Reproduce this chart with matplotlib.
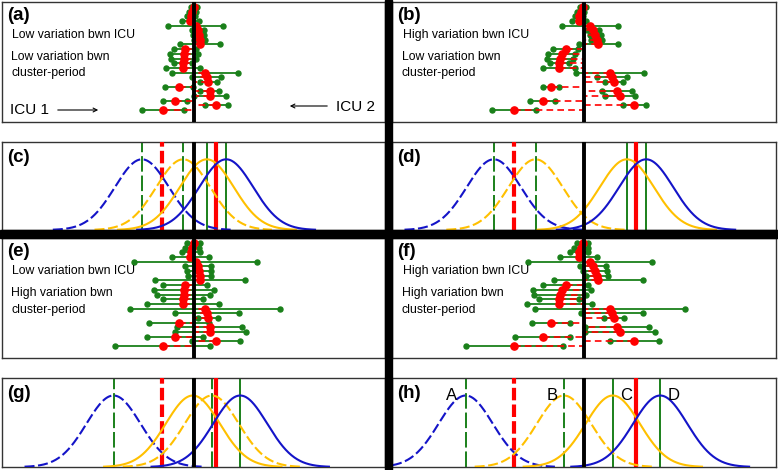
import numpy as np
import matplotlib
matplotlib.use('Agg')
import matplotlib.pyplot as plt
from matplotlib.patches import Rectangle

plt.rcParams['font.family'] = ['Liberation Sans', 'DejaVu Sans']

W, H = 778, 470

# cluster-period estimates (same rows in a/e and in b/f)
est_low = [0.0, -0.13, -0.23, -0.33, 0.2, 0.4, 0.5, 0.6, 0.63, -0.85, -0.95, -1.0,
           -1.05, -1.05, 1.13, 1.3, 1.47, -1.43, 1.6, 1.67, -1.83, 2.27, -3.1]
est_high = [-0.13, -0.33, -0.47, -0.53, 0.6, 0.93, 1.13, 1.27, 1.43, -1.83, -2.23, -2.4,
            -2.47, -2.47, 2.6, 2.77, 3.0, -3.27, 3.33, 3.6, -4.13, 5.03, -6.97]
# half widths of the intervals
hw_a = [0.30, 0.35, 0.40, 0.83, 2.75, 0.60, 0.55, 0.55, 1.97, 1.13, 1.40, 1.25,
        0.90, 1.70, 3.33, 1.45, 0.83, 1.42, 0.95, 1.58, 1.22, 1.13, 2.10]
hw_b = [0.30, 0.35, 0.40, 0.70, 2.75, 0.60, 0.55, 0.55, 1.97, 1.22, 1.33, 1.27,
        0.95, 1.58, 3.40, 1.50, 0.92, 0.80, 1.50, 1.53, 1.25, 1.12, 2.17]
hw_e = [0.62, 0.70, 0.90, 1.85, 6.17, 1.30, 1.20, 1.17, 4.50, 2.20, 3.00, 2.67,
        2.00, 3.63, 7.50, 3.20, 1.00, 3.00, 3.28, 3.53, 2.80, 2.42, 4.78]
hw_f = [0.53, 0.70, 0.90, 1.83, 6.15, 1.30, 1.20, 1.12, 4.45, 2.25, 2.88, 2.63,
        2.00, 3.25, 7.50, 3.10, 1.00, 1.87, 3.20, 3.50, 2.75, 2.48, 4.83]

# density panels: curve means A, B (dashed), C, D (solid)
means_c = [-5.16, -1.03, 1.33, 3.27]
means_d = [-9.0, -4.83, 4.27, 6.2]
means_g = [-8.0, 1.83, -0.07, 4.67]
means_h = [-11.8, -2.0, 2.87, 7.6]
red_c = [-3.17, 2.27]
red_d = [-7.0, 5.2]
red_g = [-3.17, 2.27]
red_h = [-7.0, 5.2]
curve_sd = 2.7
curve_names = ['A', 'B', 'C', 'D']

BLUE = '#1414C8'
YELLOW = '#FFC000'
GREEN = '#1A801A'
RED = '#FF0000'

fig = plt.figure(figsize=(W / 100, H / 100), dpi=100)


def add_panel(x0, y0, x1, y1):
    ax = fig.add_axes([x0 / W, 1 - y1 / H, (x1 - x0) / W, (y1 - y0) / H])
    ax.set_xticks([])
    ax.set_yticks([])
    for s in ax.spines.values():
        s.set_color('#333333')
        s.set_linewidth(1.0)
    ax.set_xlim(-19.15, 19.15)
    return ax


def forest(ax, est, hw):
    est = np.array(est)
    hw = np.array(hw)
    rows = np.arange(len(est))
    lo, hi = est - hw, est + hw
    ax.hlines(rows, lo, hi, color=GREEN, lw=1.3, zorder=2)
    ax.plot(lo, rows, 'o', color=GREEN, ms=3.6, zorder=3)
    ax.plot(hi, rows, 'o', color=GREEN, ms=3.6, zorder=3)
    for r, e in zip(rows, est):
        ax.plot([e, 0], [r, r], color=RED, lw=1.2, ls=(0, (4, 2.5)), zorder=4)
    ax.plot(est, rows, 'o', color=RED, ms=5.2, zorder=5)
    ax.axvline(0, color='black', lw=2.8, zorder=6)
    ax.set_ylim(24.56, -1.07)


def density(ax, means, reds, labels=False):
    x = np.linspace(-19.15, 19.15, 800)
    styles = [(BLUE, (0, (4.8, 1.7))), (YELLOW, (0, (4.8, 1.7))),
              (YELLOW, '-'), (BLUE, '-')]
    for i, m in enumerate(means):
        ls = (0, (8, 2)) if i < 2 else '-'
        ax.axvline(m, color=GREEN, lw=1.4, ls=ls, zorder=2)
    ax.axvline(reds[0], color=RED, lw=3, ls=(0, (3, 1)), zorder=3)
    ax.axvline(reds[1], color=RED, lw=3, zorder=3)
    for (col, ls), m in zip(styles, means):
        xs = x[np.abs(x - m) < 3.3 * curve_sd]
        ax.plot(xs, np.exp(-0.5 * ((xs - m) / curve_sd) ** 2), color=col,
                lw=1.5, ls=ls, zorder=4)
    ax.axvline(0, color='black', lw=2.8, zorder=6)
    ax.set_ylim(0, 1.245)
    if labels:
        shifts = [-1.4, -1.17, 1.3, 1.33]
        for name, m, s in zip(curve_names, means, shifts):
            ax.text(m + s, 1.0, name, fontsize=12, ha='center', va='center', zorder=7)


ax_a = add_panel(2, 2, 385, 122)
ax_b = add_panel(392, 2, 776, 122)
ax_c = add_panel(2, 142, 385, 230)
ax_d = add_panel(392, 142, 776, 230)
ax_e = add_panel(2, 238, 385, 358)
ax_f = add_panel(392, 238, 776, 358)
ax_g = add_panel(2, 378, 385, 467)
ax_h = add_panel(392, 378, 776, 467)

forest(ax_a, est_low, hw_a)
forest(ax_b, est_high, hw_b)
forest(ax_e, est_low, hw_e)
forest(ax_f, est_high, hw_f)
density(ax_c, means_c, red_c)
density(ax_d, means_d, red_d)
density(ax_g, means_g, red_g)
density(ax_h, means_h, red_h, labels=True)


def ftext(px, py, s, **kw):
    fig.text(px / W, 1 - py / H, s, va='center', ha='left', **kw)


# panel letters
for (px, py), s in zip([(7, 15), (397, 15), (7, 157), (397, 157),
                        (7, 251), (397, 251), (7, 394), (397, 394)],
                       ['(a)', '(b)', '(c)', '(d)', '(e)', '(f)', '(g)', '(h)']):
    ftext(px, py, s, fontsize=13.5, fontweight='bold')

txt = dict(fontsize=8.8)
ftext(12, 35, 'Low variation bwn ICU', **txt)
ftext(11, 57, 'Low variation bwn', **txt)
ftext(11, 73, 'cluster-period', **txt)
ftext(403, 35, 'High variation bwn ICU', **txt)
ftext(402, 57, 'Low variation bwn', **txt)
ftext(402, 73, 'cluster-period', **txt)
ftext(12, 271, 'Low variation bwn ICU', **txt)
ftext(11, 293, 'High variation bwn', **txt)
ftext(11, 310, 'cluster-period', **txt)
ftext(403, 271, 'High variation bwn ICU', **txt)
ftext(402, 293, 'High variation bwn', **txt)
ftext(402, 310, 'cluster-period', **txt)

ftext(10, 110, 'ICU 1', fontsize=11)
ftext(336, 107, 'ICU 2', fontsize=11)
arrow = dict(arrowstyle='->', lw=0.8, color='black', shrinkA=0, shrinkB=0)
fig.add_artist(matplotlib.patches.FancyArrowPatch(
    (55 / W, 1 - 110 / H), (101 / W, 1 - 110 / H), transform=fig.transFigure,
    arrowstyle='->', mutation_scale=7, lw=0.8, color='black'))
fig.add_artist(matplotlib.patches.FancyArrowPatch(
    (330 / W, 1 - 106 / H), (287 / W, 1 - 106 / H), transform=fig.transFigure,
    arrowstyle='->', mutation_scale=7, lw=0.8, color='black'))

# thick separators
fig.add_artist(Rectangle((385 / W, 0), 7 / W, 1, transform=fig.transFigure,
                         color='black', zorder=10))
fig.add_artist(Rectangle((0, 1 - 238 / H), 1, 8 / H, transform=fig.transFigure,
                         color='black', zorder=10))

fig.savefig('out.png', dpi=100)
